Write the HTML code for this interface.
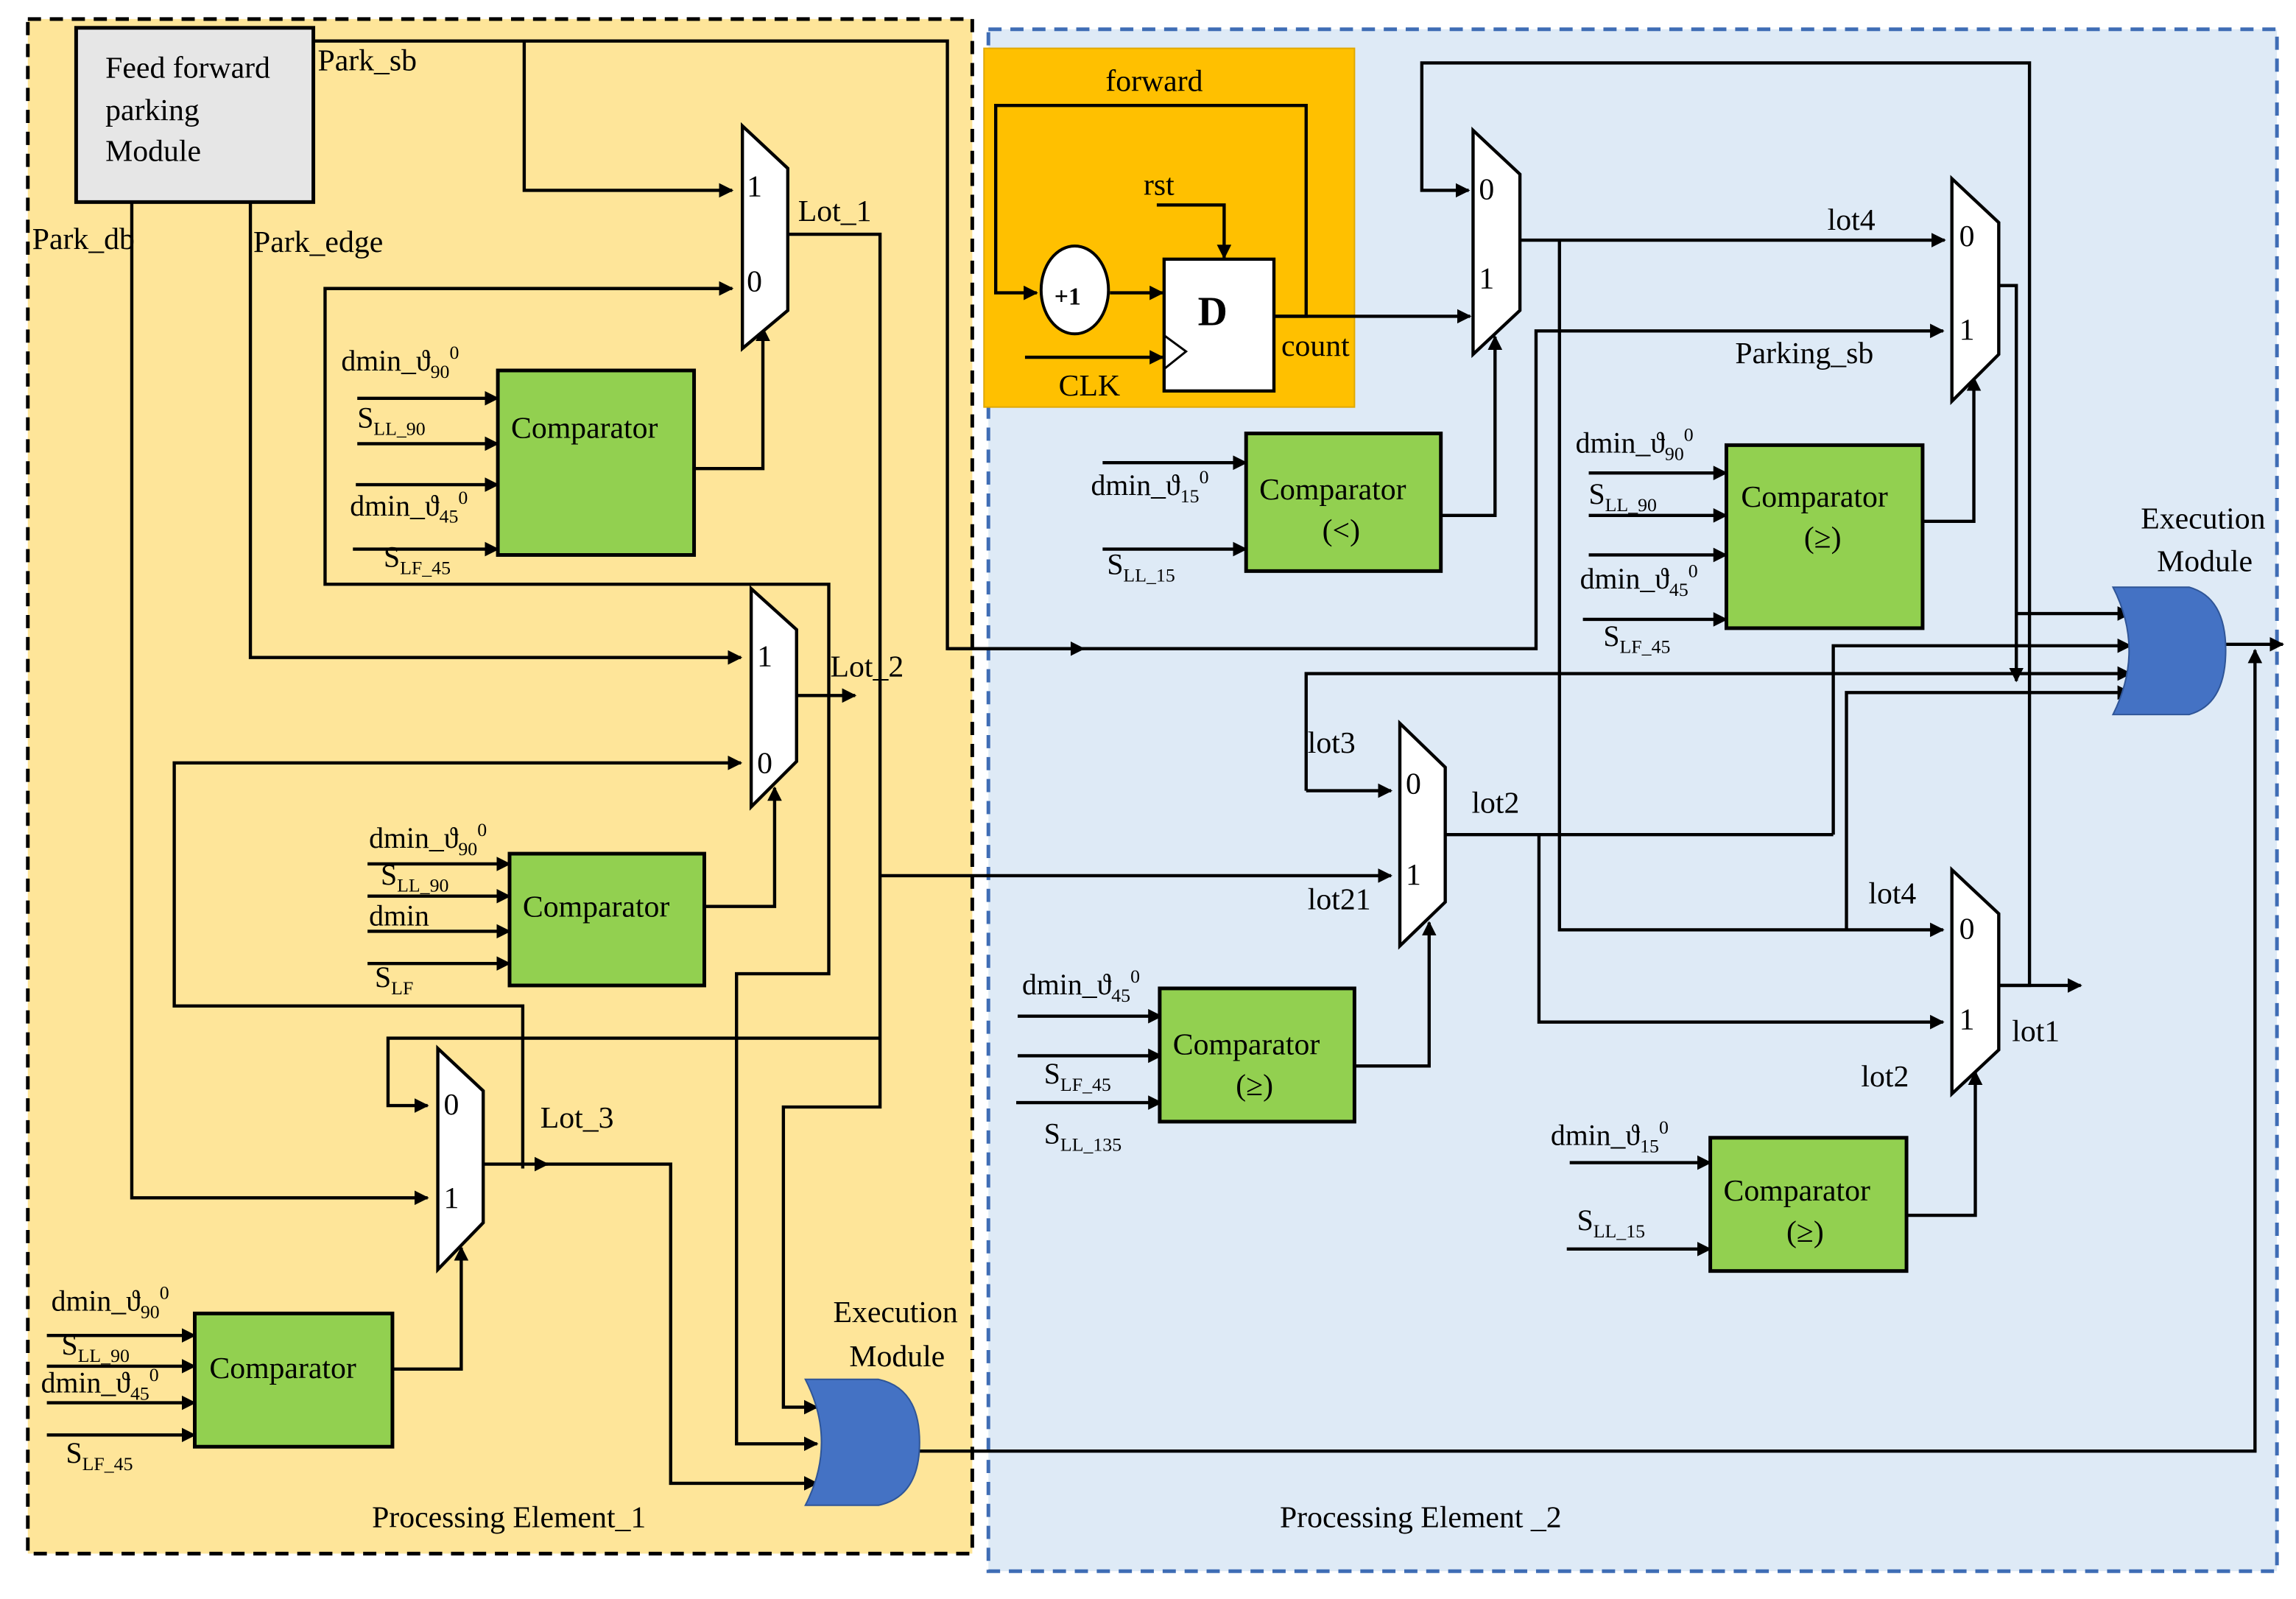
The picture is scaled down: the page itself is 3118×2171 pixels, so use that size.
<!DOCTYPE html>
<html><head><meta charset="utf-8"><style>
html,body{margin:0;padding:0;background:#fff;}
svg{display:block;}
text{font-family:"Liberation Serif",serif;fill:#000;}
</style></head><body>
<svg width="3118" height="2171" viewBox="0 0 1568 1092" preserveAspectRatio="none" xmlns="http://www.w3.org/2000/svg">
<defs>
<marker id="a" viewBox="0 0 10 10" refX="9" refY="5" markerWidth="4.5" markerHeight="4.5" orient="auto" markerUnits="strokeWidth"><path d="M0,0 L10,5 L0,10 Z" fill="#000"/></marker>
</defs>
<rect x="0" y="0" width="1568" height="1092" fill="#fff"/>
<!-- panels -->
<rect x="19" y="13" width="645" height="1048" fill="#FEE599" stroke="#000" stroke-width="2.5" stroke-dasharray="9,6"/>
<rect x="675" y="20" width="880" height="1053" fill="#DEEAF6" stroke="#3F6DB5" stroke-width="2.5" stroke-dasharray="9,6"/>
<rect x="672" y="33" width="253" height="245" fill="#FFC000" stroke="#E0A800" stroke-width="1"/>
<rect x="52" y="19" width="162" height="119" fill="#E6E6E6" stroke="#000" stroke-width="2.5"/>

<g fill="none" stroke="#000" stroke-width="2.2">
<!-- Park_sb -->
<polyline points="214,28 647,28 647,443 1049,443 1049,226 1327,226" marker-end="url(#a)"/>
<polyline points="358,28 358,130 500,130" marker-end="url(#a)"/>
<line x1="647" y1="443" x2="740" y2="443" marker-end="url(#a)"/>
<!-- Park_db -->
<polyline points="90,138 90,818 292,818" marker-end="url(#a)"/>
<!-- Park_edge -->
<polyline points="171,138 171,449 506,449" marker-end="url(#a)"/>
<!-- M1 in0 + loop -->
<polyline points="500,197 222,197 222,399 566,399 566,665 503,665 503,986 558,986" marker-end="url(#a)"/>
<line x1="222" y1="197" x2="500" y2="197" marker-end="url(#a)"/>
<!-- Lot_1 -->
<polyline points="538,160 601,160 601,756 535,756 535,961 558,961" marker-end="url(#a)"/>
<line x1="601" y1="598" x2="950" y2="598" marker-end="url(#a)"/>
<polyline points="601,709 265,709 265,755 292,755" marker-end="url(#a)"/>
<!-- Lot_2 -->
<line x1="544" y1="475" x2="584" y2="475" marker-end="url(#a)"/>
<!-- M2 in0 -->
<polyline points="357,798 357,687 119,687 119,521 506,521" marker-end="url(#a)"/>
<!-- Lot_3 -->
<line x1="330" y1="795" x2="374" y2="795" marker-end="url(#a)"/>
<polyline points="370,795 458,795 458,1013 558,1013" marker-end="url(#a)"/>
<!-- comparator C1 -->
<line x1="244" y1="272" x2="340" y2="272" marker-end="url(#a)"/>
<line x1="244" y1="303" x2="340" y2="303" marker-end="url(#a)"/>
<line x1="243" y1="331" x2="340" y2="331" marker-end="url(#a)"/>
<line x1="241" y1="375" x2="340" y2="375" marker-end="url(#a)"/>
<polyline points="474,320 521,320 521,224" marker-end="url(#a)"/>
<!-- C2 -->
<line x1="251" y1="590" x2="348" y2="590" marker-end="url(#a)"/>
<line x1="251" y1="612" x2="348" y2="612" marker-end="url(#a)"/>
<line x1="251" y1="636" x2="348" y2="636" marker-end="url(#a)"/>
<line x1="251" y1="658" x2="348" y2="658" marker-end="url(#a)"/>
<polyline points="481,619 529,619 529,538" marker-end="url(#a)"/>
<!-- C3 -->
<line x1="32" y1="912" x2="133" y2="912" marker-end="url(#a)"/>
<line x1="32" y1="933" x2="133" y2="933" marker-end="url(#a)"/>
<line x1="32" y1="958" x2="133" y2="958" marker-end="url(#a)"/>
<line x1="32" y1="980" x2="133" y2="980" marker-end="url(#a)"/>
<polyline points="268,935 315,935 315,852" marker-end="url(#a)"/>
<!-- exec left output -->
<polyline points="628,991 1540,991 1540,444" marker-end="url(#a)"/>

<!-- counter -->
<polyline points="870,216 892,216 892,72 680,72 680,200 708,200" marker-end="url(#a)"/>
<line x1="758" y1="200" x2="794" y2="200" marker-end="url(#a)"/>
<line x1="700" y1="244" x2="794" y2="244" marker-end="url(#a)"/>
<polyline points="790,140 836,140 836,176" marker-end="url(#a)"/>
<line x1="870" y1="216" x2="1004" y2="216" marker-end="url(#a)"/>
<!-- loop top -->
<polyline points="1365,673 1386,673 1386,43 971,43 971,130 1003,130" marker-end="url(#a)"/>
<line x1="1365" y1="673" x2="1421" y2="673" marker-end="url(#a)"/>
<!-- M4 out lot4 -->
<line x1="1038" y1="164" x2="1328" y2="164" marker-end="url(#a)"/>
<polyline points="1065,164 1065,635 1327,635" marker-end="url(#a)"/>
<!-- C4 -->
<line x1="753" y1="316" x2="851" y2="316" marker-end="url(#a)"/>
<line x1="753" y1="375" x2="851" y2="375" marker-end="url(#a)"/>
<polyline points="984,352 1021,352 1021,230" marker-end="url(#a)"/>
<!-- C5 -->
<line x1="1085" y1="323" x2="1179" y2="323" marker-end="url(#a)"/>
<line x1="1085" y1="352" x2="1179" y2="352" marker-end="url(#a)"/>
<line x1="1085" y1="379" x2="1179" y2="379" marker-end="url(#a)"/>
<line x1="1081" y1="423" x2="1179" y2="423" marker-end="url(#a)"/>
<polyline points="1313,356 1348,356 1348,258" marker-end="url(#a)"/>
<!-- M5 out -->
<polyline points="1365,195 1377,195 1377,465" marker-end="url(#a)"/>
<!-- exec right inputs -->
<line x1="1376" y1="419" x2="1455" y2="419" marker-end="url(#a)"/>
<polyline points="1252,570 1252,441 1455,441" marker-end="url(#a)"/>
<polyline points="892,540 892,460 1455,460" marker-end="url(#a)"/>
<line x1="892" y1="540" x2="950" y2="540" marker-end="url(#a)"/>
<polyline points="1261,636 1261,473 1455,473" marker-end="url(#a)"/>
<line x1="1520" y1="440" x2="1559" y2="440" marker-end="url(#a)"/>
<!-- M6 out lot2 -->
<line x1="987" y1="570" x2="1252" y2="570"/>
<polyline points="1051,570 1051,698 1327,698" marker-end="url(#a)"/>
<!-- C6 -->
<line x1="695" y1="694" x2="793" y2="694" marker-end="url(#a)"/>
<line x1="695" y1="721" x2="793" y2="721" marker-end="url(#a)"/>
<line x1="694" y1="753" x2="793" y2="753" marker-end="url(#a)"/>
<polyline points="925,728 976,728 976,630" marker-end="url(#a)"/>
<!-- C7 -->
<line x1="1072" y1="794" x2="1168" y2="794" marker-end="url(#a)"/>
<line x1="1070" y1="853" x2="1168" y2="853" marker-end="url(#a)"/>
<polyline points="1302,830 1349,830 1349,732" marker-end="url(#a)"/>
</g>

<!-- muxes -->
<g fill="#fff" stroke="#000" stroke-width="2.2">
<polygon points="507,86 538,115 538,212 507,238"/>
<polygon points="513,402 544,430 544,520 513,551"/>
<polygon points="299,716 330,745 330,835 299,867"/>
<polygon points="1006,89 1038,119 1038,212 1006,242"/>
<polygon points="1333,122 1365,152 1365,242 1333,274"/>
<polygon points="956,494 987,524 987,616 956,646"/>
<polygon points="1333,594 1365,624 1365,717 1333,747"/>
</g>
<!-- comparators -->
<g fill="#92D050" stroke="#000" stroke-width="2.5">
<rect x="340" y="253" width="134" height="126"/>
<rect x="348" y="583" width="133" height="90"/>
<rect x="133" y="897" width="135" height="91"/>
<rect x="851" y="296" width="133" height="94"/>
<rect x="1179" y="304" width="134" height="125"/>
<rect x="792" y="675" width="133" height="91"/>
<rect x="1168" y="777" width="134" height="91"/>
</g>
<!-- counter parts -->
<ellipse cx="734" cy="198" rx="23" ry="30" fill="#fff" stroke="#000" stroke-width="2"/>
<rect x="795" y="177" width="75" height="90" fill="#fff" stroke="#000" stroke-width="2.2"/>
<polyline points="795,229 810,240 795,252" fill="none" stroke="#000" stroke-width="1.5"/>
<!-- exec gates -->
<path d="M550,942 L600,942 Q628,948 628,985 Q628,1022 600,1028 L550,1028 Q572,985 550,942 Z" fill="#4472C4" stroke="#2F5597" stroke-width="1"/>
<path d="M1443,401 L1495,401 Q1520,408 1520,444 Q1520,481 1495,488 L1443,488 Q1465,444 1443,401 Z" fill="#4472C4" stroke="#2F5597" stroke-width="1"/>

<!-- text -->
<g font-size="21">
<text x="72" y="53">Feed forward</text>
<text x="72" y="82">parking</text>
<text x="72" y="110">Module</text>
<text x="217" y="48">Park_sb</text>
<text x="22" y="170">Park_db</text>
<text x="173" y="172">Park_edge</text>
<text x="545" y="151">Lot_1</text>
<text x="567" y="462">Lot_2</text>
<text x="369" y="770">Lot_3</text>
<text x="510" y="134">1</text><text x="510" y="199">0</text>
<text x="517" y="455">1</text><text x="517" y="528">0</text>
<text x="303" y="761">0</text><text x="303" y="825">1</text>
<text x="1010" y="136">0</text><text x="1010" y="197">1</text>
<text x="1338" y="168">0</text><text x="1338" y="232">1</text>
<text x="960" y="542">0</text><text x="960" y="604">1</text>
<text x="1338" y="641">0</text><text x="1338" y="703">1</text>
<text x="349" y="299">Comparator</text>
<text x="357" y="626">Comparator</text>
<text x="143" y="941">Comparator</text>
<text x="860" y="341">Comparator</text><text x="903" y="369">(&lt;)</text>
<text x="1189" y="346">Comparator</text><text x="1232" y="374">(≥)</text>
<text x="801" y="720">Comparator</text><text x="844" y="748">(≥)</text>
<text x="1177" y="820">Comparator</text><text x="1220" y="848">(≥)</text>
<text x="569" y="903">Execution</text><text x="580" y="933">Module</text>
<text x="1462" y="361">Execution</text><text x="1473" y="390">Module</text>
<text x="254" y="1043">Processing Element_1</text>
<text x="874" y="1043">Processing Element _2</text>
<text x="755" y="62">forward</text>
<text x="781" y="133">rst</text>
<text x="723" y="270">CLK</text>
<text x="875" y="243">count</text>
<text x="1248" y="157">lot4</text>
<text x="1185" y="248">Parking_sb</text>
<text x="893" y="514">lot3</text>
<text x="1005" y="555">lot2</text>
<text x="893" y="621">lot21</text>
<text x="1276" y="617">lot4</text>
<text x="1374" y="711">lot1</text>
<text x="1271" y="742">lot2</text>
</g>
<text x="720" y="208" font-size="17" font-family="Liberation Sans" font-weight="bold">+1</text>
<text x="818" y="222" font-size="28" font-family="Liberation Sans" font-weight="bold">D</text>

<g font-size="20">
<!-- C1 labels -->
<text x="233" y="253">dmin_ϑ<tspan font-size="13" dy="5">90</tspan><tspan font-size="13" dy="-13">0</tspan></text>
<text x="244" y="292">S<tspan font-size="13" dy="5">LL_90</tspan></text>
<text x="239" y="352">dmin_ϑ<tspan font-size="13" dy="5">45</tspan><tspan font-size="13" dy="-13">0</tspan></text>
<text x="262" y="387">S<tspan font-size="13" dy="5">LF_45</tspan></text>
<!-- C2 -->
<text x="252" y="579">dmin_ϑ<tspan font-size="13" dy="5">90</tspan><tspan font-size="13" dy="-13">0</tspan></text>
<text x="260" y="604">S<tspan font-size="13" dy="5">LL_90</tspan></text>
<text x="252" y="632">dmin</text>
<text x="256" y="674">S<tspan font-size="13" dy="5">LF</tspan></text>
<!-- C3 -->
<text x="35" y="895">dmin_ϑ<tspan font-size="13" dy="5">90</tspan><tspan font-size="13" dy="-13">0</tspan></text>
<text x="42" y="925">S<tspan font-size="13" dy="5">LL_90</tspan></text>
<text x="28" y="951">dmin_ϑ<tspan font-size="13" dy="5">45</tspan><tspan font-size="13" dy="-13">0</tspan></text>
<text x="45" y="999">S<tspan font-size="13" dy="5">LF_45</tspan></text>
<!-- C4 -->
<text x="745" y="338">dmin_ϑ<tspan font-size="13" dy="5">15</tspan><tspan font-size="13" dy="-13">0</tspan></text>
<text x="756" y="392">S<tspan font-size="13" dy="5">LL_15</tspan></text>
<!-- C5 -->
<text x="1076" y="309">dmin_ϑ<tspan font-size="13" dy="5">90</tspan><tspan font-size="13" dy="-13">0</tspan></text>
<text x="1085" y="344">S<tspan font-size="13" dy="5">LL_90</tspan></text>
<text x="1079" y="402">dmin_ϑ<tspan font-size="13" dy="5">45</tspan><tspan font-size="13" dy="-13">0</tspan></text>
<text x="1095" y="441">S<tspan font-size="13" dy="5">LF_45</tspan></text>
<!-- C6 -->
<text x="698" y="679">dmin_ϑ<tspan font-size="13" dy="5">45</tspan><tspan font-size="13" dy="-13">0</tspan></text>
<text x="713" y="740">S<tspan font-size="13" dy="5">LF_45</tspan></text>
<text x="713" y="781">S<tspan font-size="13" dy="5">LL_135</tspan></text>
<!-- C7 -->
<text x="1059" y="782">dmin_ϑ<tspan font-size="13" dy="5">15</tspan><tspan font-size="13" dy="-13">0</tspan></text>
<text x="1077" y="840">S<tspan font-size="13" dy="5">LL_15</tspan></text>
</g>
</svg>
</body></html>
